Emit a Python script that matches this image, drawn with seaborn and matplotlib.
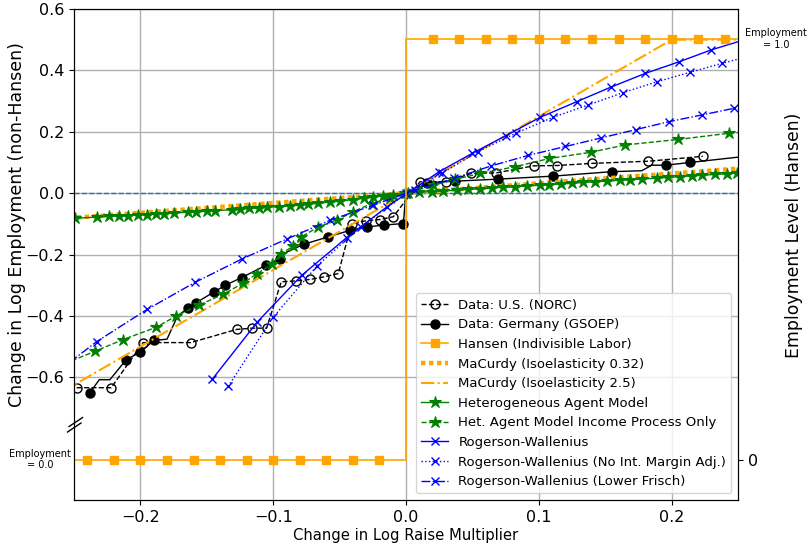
import matplotlib
matplotlib.use("Agg")
import matplotlib.pyplot as plt
import matplotlib.transforms as mtransforms
from matplotlib.lines import Line2D
import seaborn as sns

# ---------------- data ----------------
us_x = [-0.248, -0.222, -0.198, -0.162, -0.1275, -0.116, -0.105, -0.094, -0.083, -0.072,
        -0.062, -0.051, -0.041, -0.030, -0.0196, -0.0096, 0.0105, 0.030, 0.049, 0.068,
        0.096, 0.1135, 0.140, 0.1825, 0.2235]
us_y = [-0.634, -0.634, -0.487, -0.487, -0.444, -0.440, -0.440, -0.289, -0.286, -0.281,
        -0.273, -0.262, -0.099, -0.090, -0.086, -0.077, 0.037, 0.037, 0.064, 0.066,
        0.089, 0.090, 0.097, 0.104, 0.120]

ger_x = [-0.238, -0.231, -0.223, -0.2108, -0.200, -0.190, -0.180, -0.172, -0.164, -0.158,
         -0.1446, -0.136, -0.1237, -0.1054, -0.0949, -0.092, -0.0766, -0.0585, -0.042, -0.0296,
         -0.0163, -0.002, 0.0, 0.016, 0.037, 0.0695, 0.111, 0.155, 0.1775, 0.185,
         0.1955, 0.214, 0.262]
ger_y = [-0.650, -0.608, -0.608, -0.543, -0.518, -0.480, -0.476, -0.400, -0.374, -0.357,
         -0.322, -0.300, -0.275, -0.235, -0.213, -0.196, -0.166, -0.1425, -0.121, -0.110,
         -0.104, -0.099, 0.005, 0.034, 0.039, 0.0457, 0.0555, 0.070, 0.073, 0.091,
         0.091, 0.100, 0.123]
ger_bends = [1, 2, 6, 7, 15, 22, 28, 29, 32]

hansen_x = [-0.26, -0.24, -0.22, -0.20, -0.18, -0.16, -0.14, -0.12, -0.10, -0.08, -0.06, -0.04, -0.02,
            0.02, 0.04, 0.06, 0.08, 0.10, 0.12, 0.14, 0.16, 0.18, 0.20, 0.22, 0.24, 0.26]
hansen_y = [0, 0, 0, 0, 0, 0, 0, 0, 0, 0, 0, 0, 0,
            1, 1, 1, 1, 1, 1, 1, 1, 1, 1, 1, 1, 1]

mac032_x = [-0.26, 0.26]
mac032_y = [-0.0832, 0.0832]

mac25_x = [-0.26, 0.20, 0.26]
mac25_y = [-0.65, 0.50, 0.50]

ha_x = [-0.249, -0.233, -0.224, -0.216, -0.209, -0.202, -0.195, -0.188, -0.182, -0.175,
        -0.164, -0.158, -0.150, -0.144, -0.131, -0.125, -0.118, -0.111, -0.105, -0.096,
        -0.087, -0.080, -0.074, -0.066, -0.057, -0.050, -0.040, -0.032, -0.025, -0.017,
        -0.0095, -0.001, 0.0017, 0.010, 0.0194, 0.028, 0.038, 0.047, 0.0557, 0.0645,
        0.0733, 0.082, 0.091, 0.101, 0.108, 0.117, 0.125, 0.1335, 0.1423, 0.151,
        0.161, 0.169, 0.1775, 0.189, 0.1975, 0.206, 0.215, 0.2225, 0.2326, 0.2415, 0.249]
ha_y = [-0.082, -0.078, -0.076, -0.074, -0.073, -0.071, -0.070, -0.068, -0.067, -0.065,
        -0.062, -0.061, -0.059, -0.057, -0.054, -0.052, -0.050, -0.048, -0.046, -0.044,
        -0.041, -0.039, -0.036, -0.033, -0.029, -0.026, -0.021, -0.017, -0.013, -0.009,
        -0.005, -0.0005, 0.0005, 0.003, 0.005, 0.007, 0.010, 0.012, 0.014, 0.017,
        0.019, 0.021, 0.023, 0.026, 0.028, 0.030, 0.032, 0.035, 0.037, 0.039,
        0.042, 0.044, 0.046, 0.049, 0.051, 0.054, 0.056, 0.058, 0.061, 0.063, 0.065]

hai_x = [-0.262, -0.234, -0.213, -0.188, -0.173, -0.156, -0.138, -0.123, -0.112, -0.101,
         -0.094, -0.085, -0.079, -0.066, -0.052, -0.040, -0.026, -0.012, 0.0, 0.020,
         0.037, 0.0557, 0.082, 0.108, 0.139, 0.165, 0.205, 0.243, 0.272]
hai_y = [-0.564, -0.515, -0.477, -0.437, -0.400, -0.365, -0.330, -0.294, -0.262, -0.232,
         -0.197, -0.173, -0.143, -0.110, -0.088, -0.061, -0.034, -0.015, 0.0, 0.025,
         0.045, 0.064, 0.086, 0.113, 0.133, 0.157, 0.175, 0.195, 0.205]

rw_x = [-0.146, -0.112, -0.0786, -0.0447, -0.0145, 0.025, 0.050, 0.075, 0.101, 0.1285,
        0.154, 0.180, 0.2056, 0.230, 0.255]
rw_y = [-0.607, -0.420, -0.268, -0.145, -0.045, 0.070, 0.130, 0.187, 0.247, 0.298,
        0.345, 0.390, 0.428, 0.467, 0.500]

rwn_x = [-0.134, -0.100, -0.067, -0.034, 0.0, 0.027, 0.054, 0.083, 0.1105, 0.137,
         0.163, 0.189, 0.214, 0.238, 0.262]
rwn_y = [-0.630, -0.404, -0.237, -0.110, 0.0, 0.065, 0.135, 0.196, 0.247, 0.287,
         0.327, 0.363, 0.394, 0.423, 0.450]

rwl_x = [-0.262, -0.233, -0.195, -0.159, -0.1237, -0.090, -0.057, -0.0245, 0.007, 0.0358,
         0.064, 0.092, 0.120, 0.147, 0.173, 0.198, 0.223, 0.247, 0.272]
rwl_y = [-0.580, -0.484, -0.379, -0.291, -0.2146, -0.150, -0.088, -0.039, 0.010, 0.048,
         0.0886, 0.123, 0.152, 0.180, 0.207, 0.233, 0.255, 0.2765, 0.297]

xticks = [-0.2, -0.1, 0.0, 0.1, 0.2]
yticks = [-0.6, -0.4, -0.2, 0.0, 0.2, 0.4, 0.6]

# ---------------- figure ----------------
fig = plt.figure(figsize=(8.09, 5.46), dpi=100)
ax = fig.add_axes([0.0915, 0.0842, 0.8208, 0.8993])
ax2 = ax.twinx()

ORANGE = "#FFA500"


def draw(axis, x, y, **kw):
    sns.lineplot(x=x, y=y, ax=axis, sort=False, estimator=None, legend=False, **kw)
    return axis.lines[-1]


ax.axhline(0, color="#1f77b4", ls="--", lw=1.0, zorder=1)

handles = []
handles.append(draw(ax, us_x, us_y, color="black", linestyle="--", lw=1.0, marker="o",
                    markersize=6.5, mfc="none", mec="black", mew=1.0,
                    label="Data: U.S. (NORC)"))
ger_marks = [i for i in range(len(ger_x)) if i not in ger_bends]
handles.append(draw(ax, ger_x, ger_y, color="black", linestyle="-", lw=1.0, marker="o",
                    markersize=6.5, mfc="black", mec="black", mew=1.0, markevery=ger_marks,
                    label="Data: Germany (GSOEP)"))
handles.append(draw(ax2, hansen_x, hansen_y, color=ORANGE, linestyle="-", lw=1.2, marker="s",
                    markersize=5.5, mfc=ORANGE, mec=ORANGE, mew=1.0, drawstyle="steps-mid",
                    label="Hansen (Indivisible Labor)"))
handles.append(draw(ax, mac032_x, mac032_y, color=ORANGE, linestyle=(0, (1, 0.8)), lw=3.2,
                    label="MaCurdy (Isoelasticity 0.32)"))
handles.append(draw(ax, mac25_x, mac25_y, color=ORANGE, linestyle="-.", lw=1.5,
                    label="MaCurdy (Isoelasticity 2.5)"))
handles.append(draw(ax, ha_x, ha_y, color="green", linestyle="-", lw=1.0, marker="*",
                    markersize=9, mfc="green", mec="green", mew=0.8,
                    label="Heterogeneous Agent Model"))
handles.append(draw(ax, hai_x, hai_y, color="green", linestyle="--", lw=1.0, marker="*",
                    markersize=9, mfc="green", mec="green", mew=0.8,
                    label="Het. Agent Model Income Process Only"))
handles.append(draw(ax, rw_x, rw_y, color="blue", linestyle="-", lw=1.0, marker="x",
                    markersize=6, mec="blue", mew=1.0, label="Rogerson-Wallenius"))
handles.append(draw(ax, rwn_x, rwn_y, color="blue", linestyle=":", lw=1.0, marker="x",
                    markersize=6, mec="blue", mew=1.0,
                    label="Rogerson-Wallenius (No Int. Margin Adj.)"))
handles.append(draw(ax, rwl_x, rwl_y, color="blue", linestyle="-.", lw=1.0, marker="x",
                    markersize=6, mec="blue", mew=1.0,
                    label="Rogerson-Wallenius (Lower Frisch)"))

# axes styling
ax.set_xlim(-0.25, 0.25)
ax.set_ylim(-1.0, 0.6)
ax2.set_ylim(-0.0963, 1.0713)
ax.set_xticks(xticks)
ax.set_xticklabels([f"{t:.1f}".replace("-", "\u2212") for t in xticks])
ax.set_yticks(yticks)
ax.set_yticklabels([f"{t:.1f}".replace("-", "\u2212") for t in yticks])
ax2.set_yticks([0])
ax2.set_yticklabels(["0"])
ax.tick_params(labelsize=11.5)
ax2.tick_params(labelsize=11.5)
ax.grid(True, color="#b0b0b0", lw=1.0)
ax.set_axisbelow(True)
ax.set_xlabel("Change in Log Raise Multiplier", fontsize=10.6, labelpad=2)
ax.set_ylabel("Change in Log Employment (non-Hansen)", fontsize=12.5)
ax2.set_ylabel("Employment Level (Hansen)", fontsize=12.4)
ax.yaxis.set_label_coords(-0.072, 0.562)
ax2.yaxis.set_label_coords(1.071, 0.54)

# annotations
tr2 = mtransforms.blended_transform_factory(ax2.transAxes, ax2.transData)
ax2.text(-0.051, 0.0, "Employment\n= 0.0", transform=tr2, ha="center", va="center",
         fontsize=7, multialignment="center", clip_on=False)
ax2.text(1.057, 1.0, "Employment\n= 1.0", transform=tr2, ha="center", va="center",
         fontsize=7, multialignment="center", clip_on=False)

# axis break marks on left spine
for (x0, y0, x1, y1) in [(-0.0098, 0.1385, 0.0105, 0.1568), (-0.0075, 0.1497, 0.0128, 0.168)]:
    ax.add_line(Line2D([x0, x1], [y0, y1], transform=ax.transAxes, color="black",
                       lw=1.0, clip_on=False))

ax.legend(handles, [h.get_label() for h in handles], loc="lower right", fontsize=9.5)

fig.savefig("out.png", dpi=100)
